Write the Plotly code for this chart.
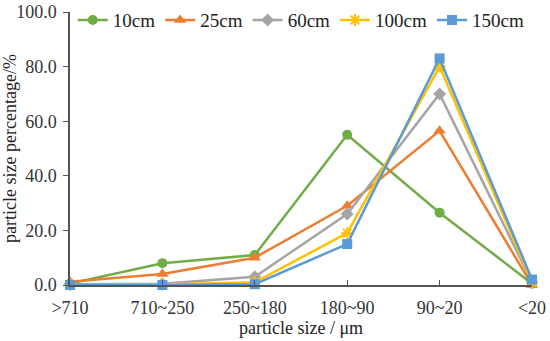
import plotly.graph_objects as go

categories = [">710", "710~250", "250~180", "180~90", "90~20", "<20"]
s10 = [0.5, 8.0, 11.0, 55.0, 26.5, 0.5]
s25 = [1.2, 4.0, 10.0, 29.0, 56.5, 0.0]
s60 = [0.3, 0.5, 3.0, 26.0, 70.0, 1.0]
s100 = [0.0, 0.2, 1.0, 19.0, 80.0, 1.0]
s150 = [0.0, 0.0, 0.3, 15.0, 83.0, 2.0]

series = [
    ("10cm", s10, "#70AD47", "circle", 10),
    ("25cm", s25, "#ED7D31", "triangle-up", 11),
    ("60cm", s60, "#A5A5A5", "diamond", 10),
    ("100cm", s100, "#FFC000", "asterisk-open", 10),
    ("150cm", s150, "#5B9BD5", "square", 10),
]

fig = go.Figure()
for name, vals, color, sym, size in series:
    fig.add_trace(go.Scatter(
        x=list(range(len(categories))), y=vals, name=name, mode="lines+markers",
        line=dict(color=color, width=2.5),
        marker=dict(symbol=sym, size=size, color=color, line=dict(color=color, width=2 if "open" in sym else 0)),
        cliponaxis=False,
    ))

font = "Liberation Serif"
fig.update_layout(
    width=550, height=341,
    margin=dict(l=70, r=18, t=12, b=56, autoexpand=False),
    paper_bgcolor="white", plot_bgcolor="white",
    font=dict(family=font, size=18, color="#333333"),
    showlegend=True,
    legend=dict(orientation="h", x=0.006, y=0.97, xanchor="left", yanchor="middle",
                font=dict(family=font, size=19, color="#222222"), bgcolor="rgba(0,0,0,0)",
                tracegroupgap=0),
    xaxis=dict(
        tickmode="array", tickvals=list(range(len(categories))), ticktext=categories,
        range=[0, 5], showgrid=False, zeroline=False,
        showline=True, linecolor="#555555", linewidth=1.5,
        ticks="inside", ticklen=5, tickcolor="#555555", ticklabelstandoff=6,
        tickfont=dict(family=font, size=18, color="#333333"),
        title=dict(text="particle size / μm", font=dict(family=font, size=18, color="#222222"), standoff=2),
    ),
    yaxis=dict(
        range=[0, 100], dtick=20, tickformat=".1f", showgrid=False, zeroline=False,
        showline=True, linecolor="#555555", linewidth=1.5,
        ticks="outside", ticklen=5, tickcolor="#555555", ticklabelstandoff=3,
        tickfont=dict(family=font, size=18, color="#333333"),
        title=dict(text="particle size percentage/%", font=dict(family=font, size=18, color="#222222"), standoff=3),
    ),
)

fig.write_html("out.html", config={"displayModeBar": False},
               post_script="document.body.style.margin='0';")
